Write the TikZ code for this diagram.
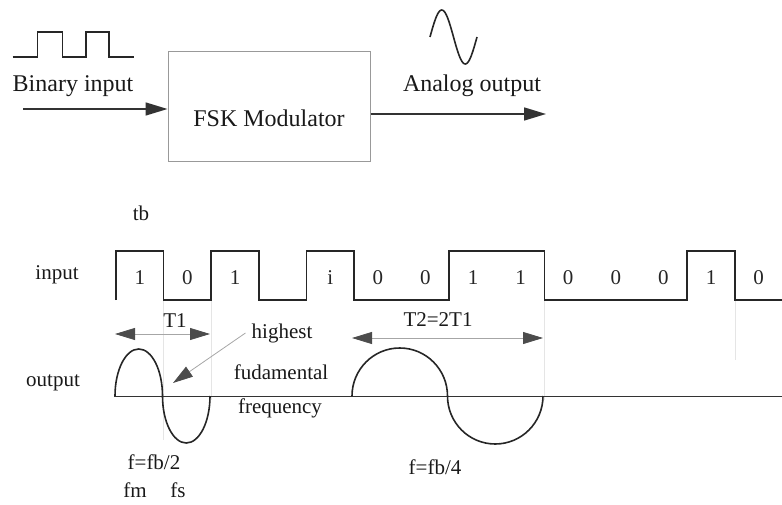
\documentclass[tikz,border=0pt]{standalone}
\usepackage{fontspec}
\setmainfont{Liberation Serif}
\usetikzlibrary{arrows.meta,positioning}

\begin{document}
\begin{tikzpicture}[
        x=1pt, y=-1pt,
        sig/.style={line width=1.6pt, black!85, line join=miter},
        modbox/.style={draw=gray!80, line width=1pt, minimum width=202pt, minimum height=110pt},
        bigarrow/.style={line width=1.6pt, black!80, -{Triangle[length=22pt,width=13pt]}},
        dimarrow/.style={line width=0.8pt, gray!70, {Triangle[length=20pt,width=12pt,color=black!70]}-{Triangle[length=20pt,width=12pt,color=black!70]}},
        ptrarrow/.style={line width=0.8pt, gray!70, -{Triangle[length=20pt,width=12pt,color=black!70]}},
        guide/.style={gray!20, line width=0.6pt},
        biglbl/.style={font=\fontsize{24}{28}\selectfont, text=black!90, inner sep=0pt},
        lbl/.style={font=\fontsize{21}{24}\selectfont, text=black!90, inner sep=0pt},
        bitlbl/.style={font=\fontsize{21}{24}\selectfont, text=black!85, inner sep=0pt}
    ]
    \useasboundingbox (0,0) rectangle (782,505);

    % ==========================================
    % TOP: block diagram of the modulator
    % ==========================================
    \begin{scope}
        \node[modbox] (mod) at (269,107) {};
        \node[biglbl] (modlbl) at (269,118) {FSK Modulator};

        % binary input side
        \draw[sig] (12.5,57) -- (37.5,57) -- (37.5,32) -- (62.5,32) -- (62.5,57)
            -- (86,57) -- (86,32) -- (109,32) -- (109,57) -- (134,57);
        \node[biglbl] (binlbl) at (73,86) {Binary input};
        \coordinate (inStart) at (23,109);
        \draw[bigarrow] (inStart) -- (inStart -| mod.west);

        % analog output side
        \draw[sig] plot[domain=0:360, samples=50, smooth] ({430+\x/360*47}, {37-27*sin(\x)});
        \node[biglbl] (anlbl) at (472,86) {Analog output};
        \coordinate (outEnd) at (546,114);
        \draw[bigarrow] (outEnd -| mod.east) -- (outEnd);
    \end{scope}

    % ==========================================
    % BOTTOM: input bits and FSK output
    % ==========================================
    \begin{scope}
        % faint bit guides
        \draw[guide] (163.6,296) -- (163.6,440);
        \draw[guide] (211.2,296) -- (211.2,400);
        \draw[guide] (544.4,300) -- (544.4,400);
        \draw[guide] (734.8,300) -- (734.8,360);

        \node[lbl] (tb) at (141,213) {tb};
        \node[lbl] (inlbl) at (57,275) {input};
        \node[lbl] (outlbl) at (53,383) {output};

        % input bit stream
        \draw[sig] (116,300) -- (116,251) -- (163.6,251) -- (163.6,300) -- (211.2,300)
            -- (211.2,251) -- (258.8,251) -- (258.8,300) -- (306.4,300) -- (306.4,251)
            -- (354,251) -- (354,300) -- (449.2,300) -- (449.2,251) -- (544.4,251)
            -- (544.4,300) -- (687.2,300) -- (687.2,251) -- (734.8,251) -- (734.8,300)
            -- (782,300);
        \foreach \b [count=\i] in {1,0,1,{},i,0,0,1,1,0,0,0,1,0}
            \node[bitlbl] (bit\i) at ({116+47.6*(\i-0.5)},278) {\b};

        % output waveform
        \coordinate (baseL) at (114,396);
        \coordinate (baseR) at (782,396);
        \draw[line width=1pt, black!80] (baseL) -- (baseR);
        \draw[sig] (115,396) arc[start angle=180, end angle=0, x radius=23.75pt, y radius=47pt]
            arc[start angle=180, end angle=360, x radius=23.75pt, y radius=47pt];
        \draw[sig] (352,396) arc[start angle=180, end angle=0, x radius=47.75pt, y radius=48pt]
            arc[start angle=180, end angle=360, x radius=47.75pt, y radius=48pt];

        % periods
        \coordinate (t1a) at (115,334);
        \coordinate (t1b) at (210,334);
        \draw[dimarrow] (t1a) -- (t1b);
        \node[lbl] (t1lbl) at (175,321) {T1};
        \coordinate (t2a) at (352,338);
        \coordinate (t2b) at (543,338);
        \draw[dimarrow] (t2a) -- (t2b);
        \node[lbl] (t2lbl) at (438,320) {T2=2T1};

        % note
        \node[lbl] (hi) at (282,333) {highest};
        \node[lbl] (fund) at (281,372) {fudamental};
        \node[lbl] (freq) at (280,408) {frequency};
        \coordinate (ptrtip) at (173,383);
        \draw[ptrarrow] ([xshift=-6pt]hi.west) -- (ptrtip);

        % frequencies
        \node[lbl] (f1) at (154,462) {f=fb/2};
        \node[lbl] (fm) at (135,490) {fm};
        \node[lbl] (fs) at (178,490) {fs};
        \node[lbl] (f2) at (435,467) {f=fb/4};
    \end{scope}

\end{tikzpicture}
\end{document}
